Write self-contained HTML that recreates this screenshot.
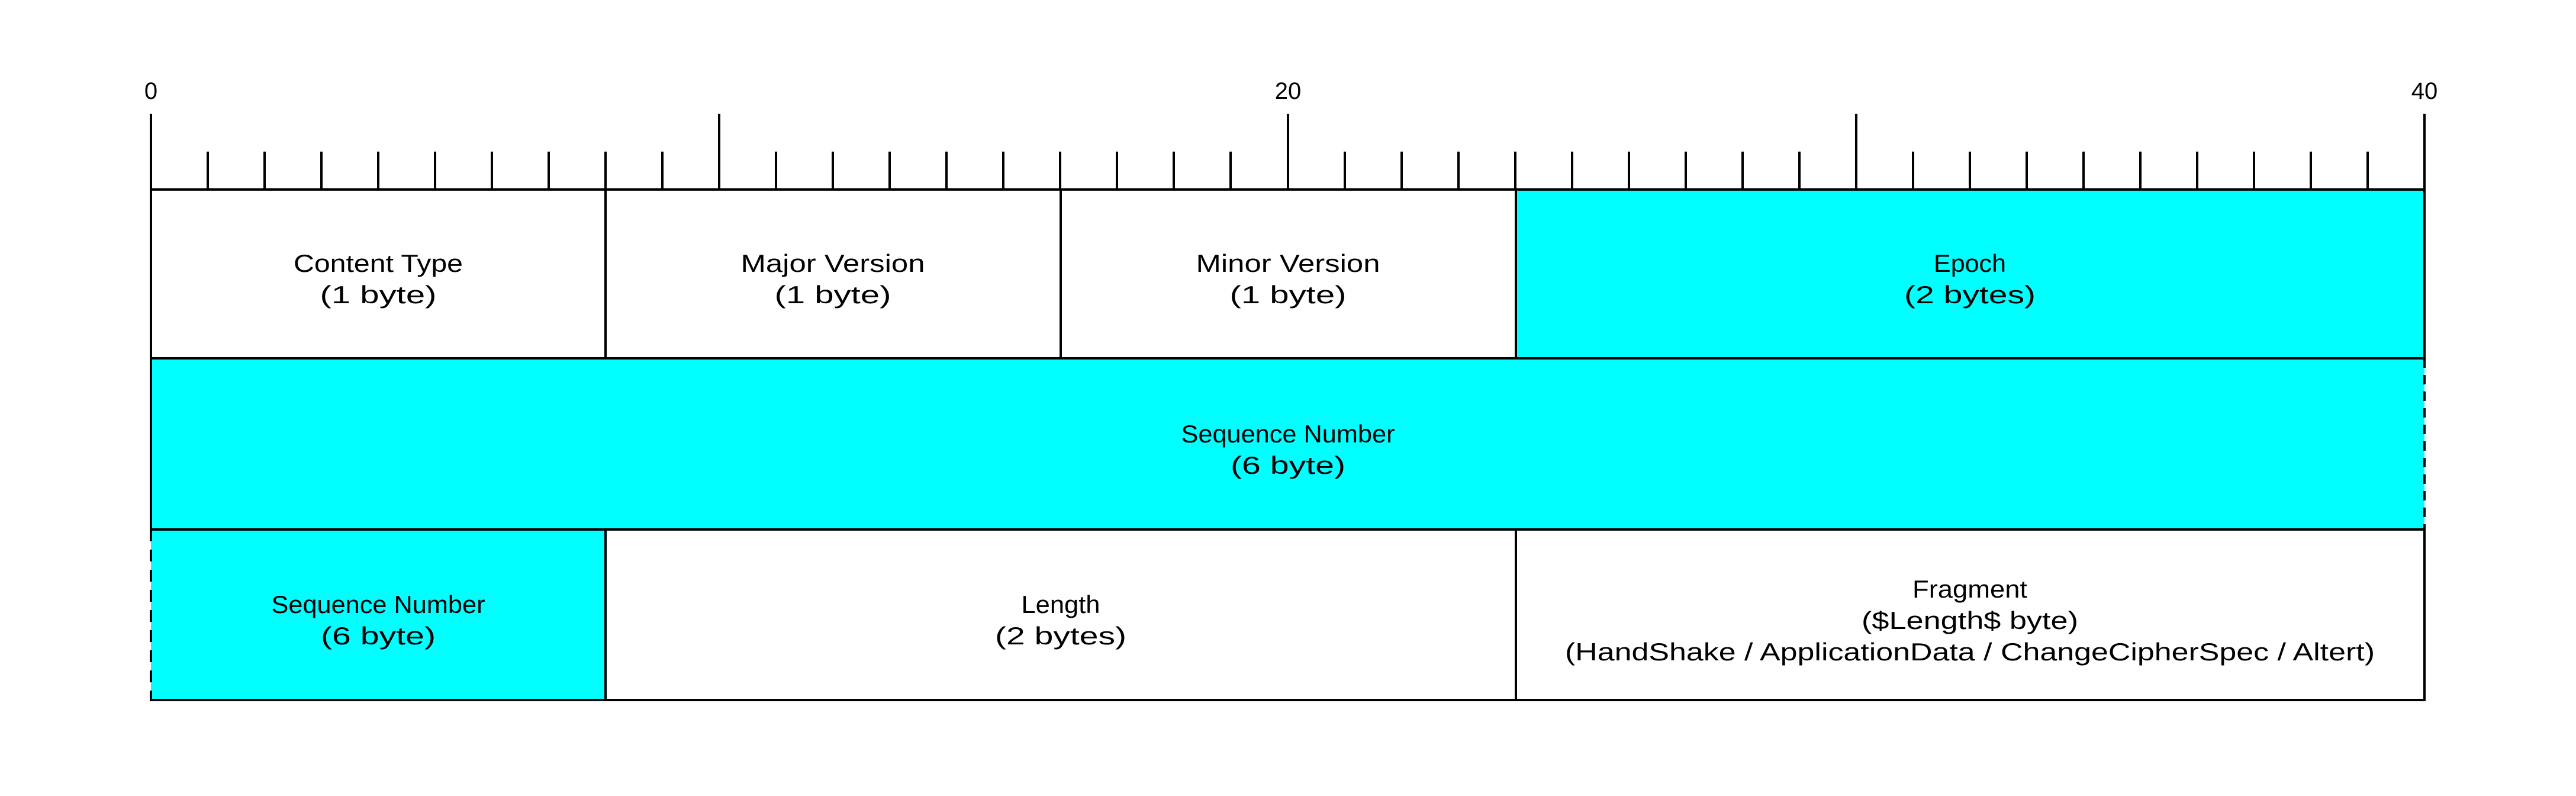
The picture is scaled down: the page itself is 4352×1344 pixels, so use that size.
<!DOCTYPE html>
<html><head><meta charset="utf-8"><style>html,body{margin:0;padding:0;background:#fff}svg{display:block}</style></head>
<body>
<svg width="4352" height="1344" viewBox="0 0 4352 1344" xmlns="http://www.w3.org/2000/svg" font-family="Liberation Sans, sans-serif" font-size="42" fill="#000">
<rect width="4352" height="1344" fill="#fff"/>
<!-- fills -->
<rect x="2561" y="320" width="1535" height="285" fill="#00ffff"/>
<rect x="255" y="605" width="3841" height="289" fill="#00ffff"/>
<rect x="255" y="894" width="768" height="288" fill="#00ffff"/>
<g stroke="#000" stroke-width="4">
<!-- ruler ticks -->
<line x1="255" y1="192" x2="255" y2="320"/>
<line x1="1215" y1="192" x2="1215" y2="320"/>
<line x1="2176" y1="192" x2="2176" y2="320"/>
<line x1="3136" y1="192" x2="3136" y2="320"/>
<line x1="4096" y1="192" x2="4096" y2="320"/>
</g>
<g stroke="#000" stroke-width="4" id="ticks">
<path d="M351 256V320M447 256V320M543 256V320M639 256V320M735 256V320M831 256V320M927 256V320M1023 256V320M1119 256V320M1311 256V320M1407 256V320M1503 256V320M1599 256V320M1695 256V320M1791 256V320M1887 256V320M1983 256V320M2079 256V320M2272 256V320M2368 256V320M2464 256V320M2560 256V320M2656 256V320M2752 256V320M2848 256V320M2944 256V320M3040 256V320M3232 256V320M3328 256V320M3424 256V320M3520 256V320M3616 256V320M3712 256V320M3808 256V320M3904 256V320M4000 256V320"/>
</g>
<g stroke="#000" stroke-width="4" fill="none">
<!-- horizontal lines -->
<line x1="253" y1="320" x2="4098" y2="320"/>
<line x1="253" y1="605" x2="4098" y2="605"/>
<line x1="253" y1="894" x2="4098" y2="894"/>
<line x1="253" y1="1182" x2="4098" y2="1182"/>
<!-- row1 verticals -->
<line x1="255" y1="320" x2="255" y2="605"/>
<line x1="1023" y1="320" x2="1023" y2="605"/>
<line x1="1792" y1="320" x2="1792" y2="605"/>
<line x1="2561" y1="320" x2="2561" y2="605"/>
<line x1="4096" y1="320" x2="4096" y2="605"/>
<!-- row2 -->
<line x1="255" y1="605" x2="255" y2="894"/>
<line x1="4096" y1="605" x2="4096" y2="894" stroke-dasharray="16 12"/>
<!-- row3 -->
<line x1="255" y1="894" x2="255" y2="1182" stroke-dasharray="20 14"/>
<line x1="1023" y1="894" x2="1023" y2="1182"/>
<line x1="2561" y1="894" x2="2561" y2="1182"/>
<line x1="4096" y1="894" x2="4096" y2="1182"/>
</g>
<g text-anchor="middle" lengthAdjust="spacingAndGlyphs">
<text x="255" y="167" font-size="40">0</text>
<text x="2176" y="167" font-size="40">20</text>
<text x="4096" y="167" font-size="40">40</text>

<text x="639" y="459" textLength="286" lengthAdjust="spacingAndGlyphs">Content Type</text>
<text x="639" y="512" textLength="197" lengthAdjust="spacingAndGlyphs">(1 byte)</text>
<text x="1407" y="459" textLength="311" lengthAdjust="spacingAndGlyphs">Major Version</text>
<text x="1407" y="512" textLength="197" lengthAdjust="spacingAndGlyphs">(1 byte)</text>
<text x="2176" y="459" textLength="311" lengthAdjust="spacingAndGlyphs">Minor Version</text>
<text x="2176" y="512" textLength="197" lengthAdjust="spacingAndGlyphs">(1 byte)</text>
<text x="3328" y="459" textLength="122" lengthAdjust="spacingAndGlyphs">Epoch</text>
<text x="3328" y="512" textLength="222" lengthAdjust="spacingAndGlyphs">(2 bytes)</text>

<text x="2176" y="747" textLength="361" lengthAdjust="spacingAndGlyphs">Sequence Number</text>
<text x="2176" y="800" textLength="194" lengthAdjust="spacingAndGlyphs">(6 byte)</text>

<text x="639" y="1035" textLength="361" lengthAdjust="spacingAndGlyphs">Sequence Number</text>
<text x="639" y="1088" textLength="194" lengthAdjust="spacingAndGlyphs">(6 byte)</text>
<text x="1792" y="1035" textLength="133" lengthAdjust="spacingAndGlyphs">Length</text>
<text x="1792" y="1088" textLength="222" lengthAdjust="spacingAndGlyphs">(2 bytes)</text>
<text x="3328" y="1009" textLength="194" lengthAdjust="spacingAndGlyphs">Fragment</text>
<text x="3328" y="1062" textLength="366" lengthAdjust="spacingAndGlyphs">($Length$ byte)</text>
<text x="3328" y="1115" textLength="1368" lengthAdjust="spacingAndGlyphs">(HandShake / ApplicationData / ChangeCipherSpec / Altert)</text>
</g>
</svg>
</body></html>
